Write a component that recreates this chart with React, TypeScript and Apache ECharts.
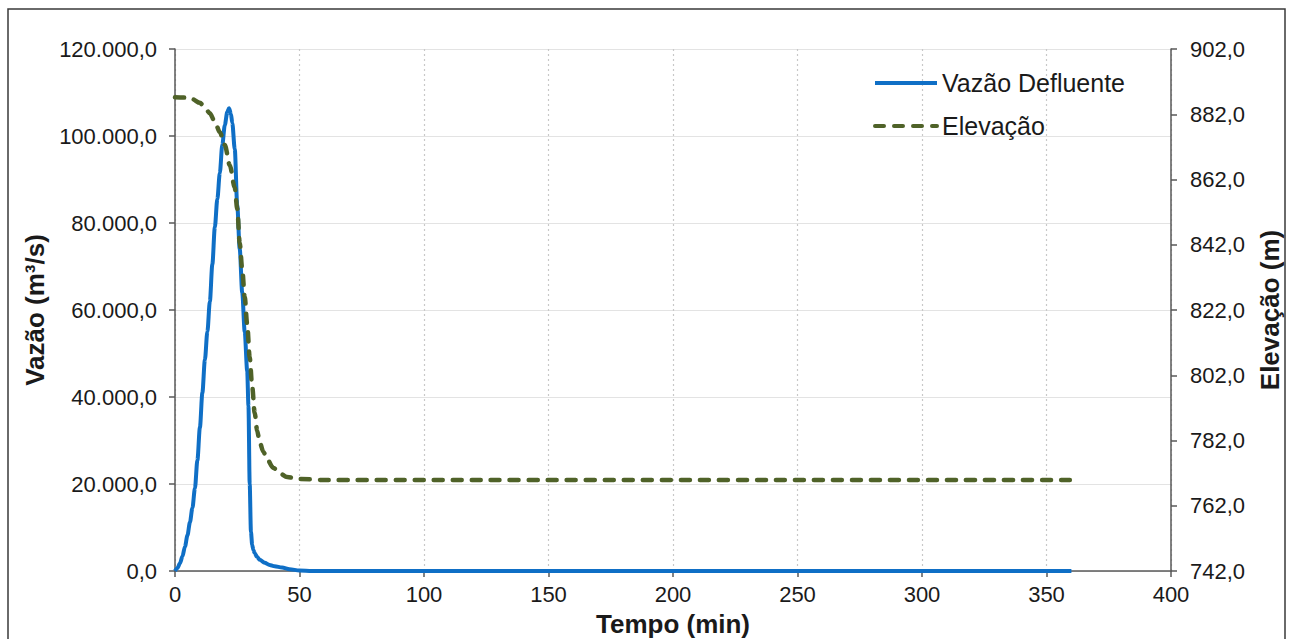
import React, { useEffect, useRef } from "react";
import * as echarts from "echarts";

// Outflow hydrograph (min, m³/s)
const vazaoTempo = [
  0, 1, 2, 3, 4, 5, 6, 7, 8, 9, 10, 11, 12, 13, 14, 15, 16, 17, 18, 19, 20, 21,
  21.7, 22.5, 23, 24, 25, 26, 27, 28, 29, 29.5, 30, 30.5, 31, 31.5, 32, 33, 34,
  36, 38, 40, 43, 46, 50, 55, 60, 100, 200, 300, 360,
];
const vazaoValores = [
  0, 700, 1800, 3400, 5600, 8200, 11200, 14500, 19000, 25500, 33000, 41000,
  48500, 55000, 62000, 70500, 79000, 85500, 91500, 98000, 102500, 105500,
  106400, 105000, 103000, 97000, 84000, 74000, 64000, 55000, 46000, 38000,
  20000, 9000, 6000, 4800, 4100, 3200, 2600, 1900, 1400, 1100, 800, 400, 120, 0,
  0, 0, 0, 0, 0,
];

// Reservoir elevation (min, m)
const elevTempo = [
  0, 4, 7, 10, 12, 14, 16, 18, 20, 22, 24, 25, 26, 27, 28, 29, 30, 31, 32, 33,
  34, 35.5, 37, 39.5, 42, 45, 50, 60, 360,
];
const elevValores = [
  887.2, 887.1, 886.6, 885.5, 884, 882.3, 879.7, 876.5, 872.6, 866.4, 859.5,
  853, 842.5, 834.5, 826, 817.5, 807.5, 798.5, 790.5, 785, 781.5, 778.5, 776.2,
  773.6, 772, 770.8, 770.2, 769.9, 769.9,
];

const tempoEixo = { min: 0, max: 400, interval: 50 };
const vazaoEixo = { min: 0, max: 120000, interval: 20000 };
const elevEixo = { min: 742, max: 902, interval: 20 };

const nomes = {
  vazao: "Vazão Defluente",
  elev: "Elevação",
  eixoX: "Tempo (min)",
  eixoVazao: "Vazão (m³/s)",
  eixoElev: "Elevação (m)",
};

function formatoBR(v: number): string {
  const [inteiro, dec] = v.toFixed(1).split(".");
  return inteiro.replace(/\B(?=(\d{3})+(?!\d))/g, ".") + "," + dec;
}

const FONTE = "'Liberation Sans', Arial, sans-serif";
const COR_TEXTO = "#1a1a1a";
const COR_EIXO = "#595959";
const AZUL = "#0F6FC6";
const VERDE = "#4F6228";

export default function App() {
  const ref = useRef<HTMLDivElement>(null);

  useEffect(() => {
    document.body.style.margin = "0";
    if (!ref.current) return;
    const chart = echarts.init(ref.current, undefined, { renderer: "svg" });

    const rotulo = { fontSize: 22, color: COR_TEXTO, fontFamily: FONTE };
    const nomeEstilo = {
      fontSize: 26,
      fontWeight: "bold" as const,
      color: COR_TEXTO,
      fontFamily: FONTE,
    };
    const linhaEixo = { show: true, lineStyle: { color: COR_EIXO, width: 1.5 } };
    const marcaEixo = { show: true, length: 6, lineStyle: { color: COR_EIXO, width: 1.5 } };

    chart.setOption({
      animation: false,
      backgroundColor: "#ffffff",
      textStyle: { fontFamily: FONTE },
      grid: {
        left: 175,
        right: 119,
        top: 49,
        bottom: 68,
        containLabel: false,
        outerBoundsMode: "none",
      },
      graphic: [
        {
          type: "rect",
          z: -10,
          silent: true,
          shape: { x: 8, y: 9, width: 1277, height: 700 },
          style: { fill: "none", stroke: "#3a3a3a", lineWidth: 1.5 },
        },
      ],
      legend: {
        orient: "vertical",
        left: 873,
        top: 70,
        padding: 0,
        itemWidth: 62,
        itemHeight: 14,
        itemGap: 17,
        itemStyle: { opacity: 0 },
        lineStyle: { width: 4 },
        textStyle: {
          fontSize: 25,
          lineHeight: 26,
          color: COR_TEXTO,
          fontFamily: FONTE,
        },
        data: [nomes.vazao, nomes.elev],
      },
      xAxis: {
        type: "value",
        ...tempoEixo,
        name: nomes.eixoX,
        nameLocation: "middle",
        nameGap: 40,
        nameTextStyle: nomeEstilo,
        axisLine: linhaEixo,
        axisTick: marcaEixo,
        axisLabel: { ...rotulo, margin: 12 },
        splitLine: {
          show: true,
          lineStyle: { color: "#c8c8c8", width: 1.2, type: [2, 3] },
        },
      },
      yAxis: [
        {
          type: "value",
          ...vazaoEixo,
          position: "left",
          name: nomes.eixoVazao,
          nameLocation: "middle",
          nameGap: 124,
          nameTextStyle: nomeEstilo,
          axisLine: linhaEixo,
          axisTick: marcaEixo,
          axisLabel: { ...rotulo, margin: 18, formatter: (v: number) => formatoBR(v) },
          splitLine: { show: true, lineStyle: { color: "#e3e3e3", width: 1.2 } },
        },
        {
          type: "value",
          ...elevEixo,
          position: "right",
          name: nomes.eixoElev,
          nameLocation: "middle",
          nameGap: 86,
          nameTextStyle: nomeEstilo,
          axisLine: linhaEixo,
          axisTick: marcaEixo,
          axisLabel: {
            ...rotulo,
            margin: 19,
            formatter: (v: number) => v.toFixed(1).replace(".", ","),
          },
          splitLine: { show: false },
        },
      ],
      series: [
        {
          name: nomes.vazao,
          type: "line",
          yAxisIndex: 0,
          showSymbol: false,
          symbol: "none",
          smooth: 0.3,
          smoothMonotone: "x",
          z: 3,
          lineStyle: { color: AZUL, width: 4 },
          itemStyle: { color: AZUL },
          data: vazaoTempo.map((t, i) => [t, vazaoValores[i]]),
        },
        {
          name: nomes.elev,
          type: "line",
          yAxisIndex: 1,
          showSymbol: false,
          symbol: "none",
          smooth: 0.3,
          smoothMonotone: "x",
          z: 4,
          lineStyle: { color: VERDE, width: 4.5, type: [9, 10], cap: "round" },
          itemStyle: { color: VERDE },
          data: elevTempo.map((t, i) => [t, elevValores[i]]),
        },
      ],
    });

    return () => chart.dispose();
  }, []);

  return <div ref={ref} style={{ width: 1290, height: 639 }} />;
}
